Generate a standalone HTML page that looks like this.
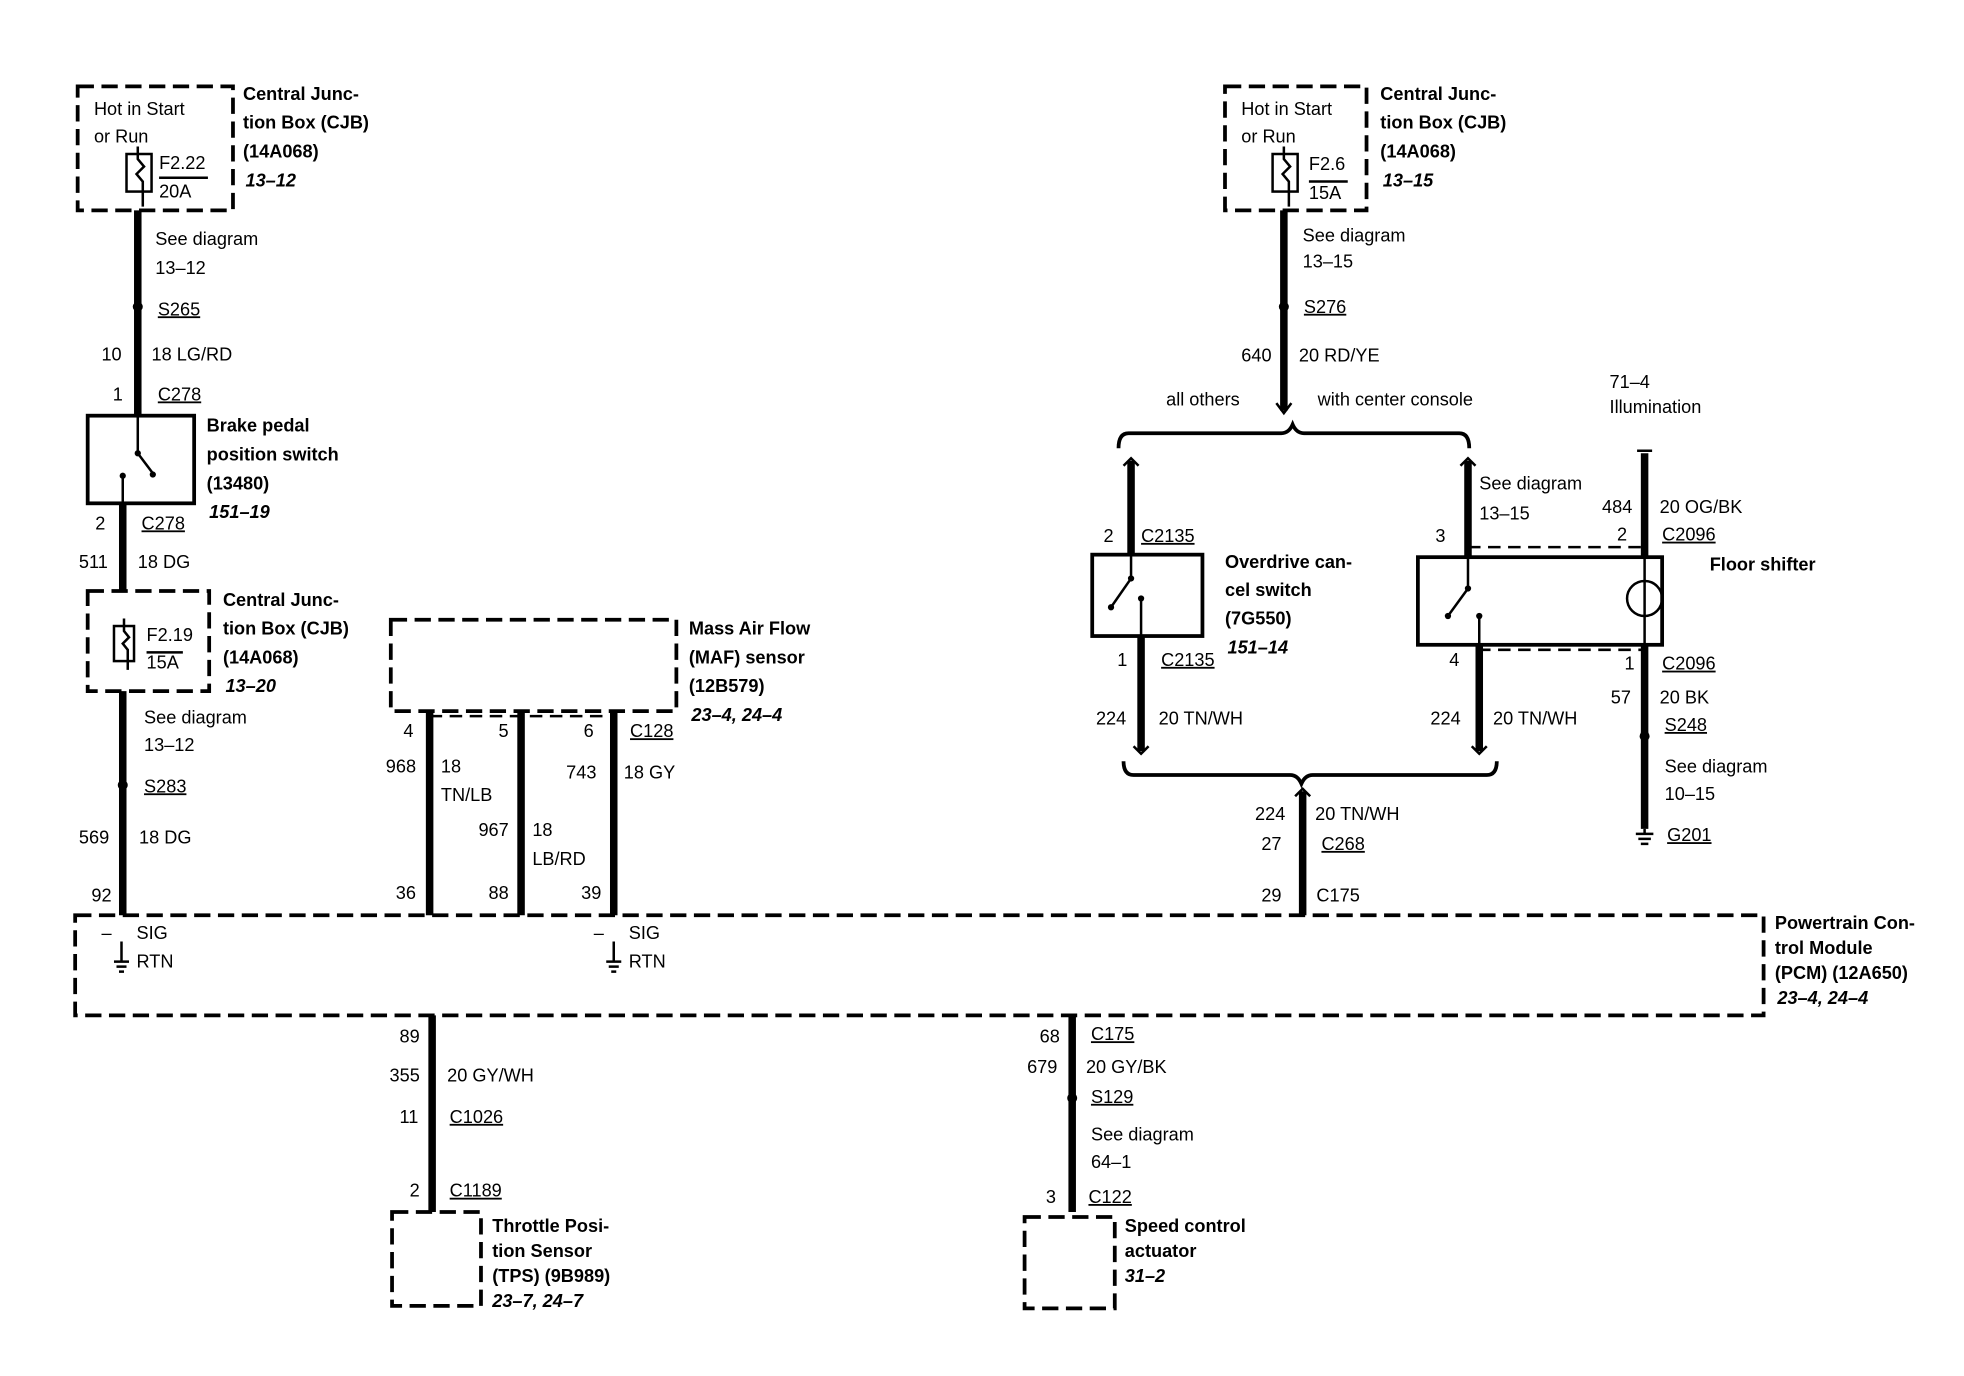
<!DOCTYPE html>
<html><head><meta charset="utf-8"><style>
html,body{margin:0;padding:0;background:#fff;}
svg{display:block}
text{font-family:"Liberation Sans",sans-serif;font-size:14.5px;fill:#000;dominant-baseline:middle}
.b{font-weight:bold}
.i{font-weight:bold;font-style:italic}
.u{text-decoration:underline}
</style></head><body>
<svg width="1964" height="1376" viewBox="0 0 1568 1099" preserveAspectRatio="none" xmlns="http://www.w3.org/2000/svg">
<g fill="none" stroke="#000">
<g stroke-width="3" stroke-dasharray="13,6">
<rect x="62" y="69" width="124" height="99"/>
<rect x="70" y="472" width="97" height="80"/>
<rect x="978" y="69" width="113" height="99"/>
<rect x="312" y="495" width="228" height="73"/>
<rect x="60" y="731" width="1348" height="80"/>
<rect x="313" y="968" width="71" height="75"/>
<rect x="818" y="972" width="72" height="73"/>
</g>
<g stroke-width="2" stroke-dasharray="10,6">
<line x1="343" y1="572" x2="490" y2="572"/>
<line x1="1172" y1="437" x2="1313" y2="437"/>
<line x1="1180" y1="519" x2="1313" y2="519"/>
</g>
<g stroke-width="3">
<rect x="70" y="332" width="85" height="70"/>
<rect x="872" y="443" width="88" height="65"/>
<rect x="1132" y="445" width="195" height="70"/>
</g>
<g stroke-width="2">
<rect x="101" y="123" width="20" height="30"/>
<path d="M110 117 v10 l5 6 l-6 6 l5 6 v20"/>
<line x1="127" y1="142" x2="166" y2="142"/>
<rect x="91" y="500" width="16" height="28"/>
<path d="M99 494 v10 l4 5 l-5 5 l4 5 v16"/>
<line x1="117" y1="521" x2="146" y2="521"/>
<rect x="1016" y="123" width="20" height="30"/>
<path d="M1025 117 v10 l5 6 l-6 6 l5 6 v20"/>
<line x1="1045" y1="145" x2="1076" y2="145"/>
</g>
<g stroke-width="6">
<line x1="110" y1="168" x2="110" y2="332"/>
<line x1="98" y1="402" x2="98" y2="472"/>
<line x1="98" y1="552" x2="98" y2="731"/>
<line x1="343" y1="568" x2="343" y2="731"/>
<line x1="416" y1="568" x2="416" y2="731"/>
<line x1="490" y1="568" x2="490" y2="731"/>
<line x1="345" y1="811" x2="345" y2="968"/>
<line x1="856" y1="811" x2="856" y2="968"/>
<line x1="1025" y1="168" x2="1025" y2="328"/>
<line x1="903" y1="368" x2="903" y2="443"/>
<line x1="911" y1="508" x2="911" y2="600"/>
<line x1="1172" y1="368" x2="1172" y2="445"/>
<line x1="1181" y1="515" x2="1181" y2="600"/>
<line x1="1313" y1="362" x2="1313" y2="445"/>
<line x1="1313" y1="515" x2="1313" y2="662"/>
<line x1="1040" y1="632" x2="1040" y2="731"/>
</g>
<g stroke-width="2">
<line x1="110" y1="332" x2="110" y2="362"/><line x1="110" y1="362" x2="122" y2="378"/>
<line x1="98" y1="380" x2="98" y2="402"/>
<line x1="903" y1="443" x2="903" y2="462"/><line x1="903" y1="462" x2="887" y2="485"/>
<line x1="911" y1="478" x2="911" y2="508"/>
<line x1="1172" y1="445" x2="1172" y2="470"/><line x1="1172" y1="470" x2="1156" y2="492"/>
<line x1="1181" y1="492" x2="1181" y2="515"/>
<line x1="1313" y1="445" x2="1313" y2="515"/>
<circle cx="1313" cy="478" r="14"/>
<path d="M893 358 q0 -12 8 -12 h122 q6 0 9 -7 q3 7 9 7 h124 q8 0 8 12" stroke-width="3"/>
<path d="M897 608 q0 11 8 11 h125 q6 0 9 7 q3 -7 9 -7 h139 q8 0 8 -11" stroke-width="3"/>
<path d="M97 752 v16 M91 768 h12 M93 772 h8 M95 776 h4"/>
<path d="M490 752 v16 M484 768 h12 M486 772 h8 M488 776 h4"/>
<path d="M1313 662 v4 M1306 666 h14 M1308 670 h10 M1310 674 h6"/>
</g>
<g stroke-width="2">
<path d="M1019 322 l6 8 l6 -8"/>
<path d="M897 372 l6 -6 l6 6"/><path d="M1166 372 l6 -6 l6 6"/>
<path d="M905 596 l6 6 l6 -6"/><path d="M1175 596 l6 6 l6 -6"/>
<path d="M1034 636 l6 -6 l6 6"/>
<path d="M1307 360 h12"/>
</g>
</g>
<g fill="#000">
<circle cx="110" cy="245" r="4"/><circle cx="98" cy="627" r="4"/>
<circle cx="1025" cy="245" r="4"/><circle cx="856" cy="877" r="4"/>
<circle cx="1313" cy="588" r="4"/>
<circle cx="110" cy="362" r="2.5"/><circle cx="122" cy="379" r="2.5"/><circle cx="98" cy="380" r="2.5"/>
<circle cx="903" cy="462" r="2.5"/><circle cx="887" cy="485" r="2.5"/><circle cx="911" cy="478" r="2.5"/>
<circle cx="1172" cy="470" r="2.5"/><circle cx="1156" cy="492" r="2.5"/><circle cx="1181" cy="492" r="2.5"/>
</g>

<text x="75" y="88">Hot in Start</text><text x="75" y="110">or Run</text>
<text x="127" y="131">F2.22</text><text x="127" y="154">20A</text>
<text class="b" x="194" y="76">Central Junc-</text><text class="b" x="194" y="99">tion Box (CJB)</text><text class="b" x="194" y="122">(14A068)</text><text class="i" x="196" y="145">13–12</text>
<text x="124" y="192">See diagram</text><text x="124" y="215">13–12</text>
<text class="u" x="126" y="248">S265</text>
<text x="81" y="284">10</text><text x="121" y="284">18 LG/RD</text>
<text x="90" y="316">1</text><text class="u" x="126" y="316">C278</text>
<text class="b" x="165" y="341">Brake pedal</text><text class="b" x="165" y="364">position switch</text><text class="b" x="165" y="387">(13480)</text><text class="i" x="167" y="410">151–19</text>
<text x="76" y="419">2</text><text class="u" x="113" y="419">C278</text>
<text x="63" y="450">511</text><text x="110" y="450">18 DG</text>
<text x="117" y="508">F2.19</text><text x="117" y="530">15A</text>
<text class="b" x="178" y="480">Central Junc-</text><text class="b" x="178" y="503">tion Box (CJB)</text><text class="b" x="178" y="526">(14A068)</text><text class="i" x="180" y="549">13–20</text>
<text x="115" y="574">See diagram</text><text x="115" y="596">13–12</text>
<text class="u" x="115" y="629">S283</text>
<text x="63" y="670">569</text><text x="111" y="670">18 DG</text>
<text x="73" y="716">92</text>
<text x="81" y="746">–</text><text x="109" y="746">SIG</text><text x="109" y="769">RTN</text>
<text x="474" y="746">–</text><text x="502" y="746">SIG</text><text x="502" y="769">RTN</text>
<text class="b" x="550" y="503">Mass Air Flow</text><text class="b" x="550" y="526">(MAF) sensor</text><text class="b" x="550" y="549">(12B579)</text><text class="i" x="552" y="572">23–4, 24–4</text>
<text x="322" y="585">4</text><text x="398" y="585">5</text><text x="466" y="585">6</text><text class="u" x="503" y="585">C128</text>
<text x="308" y="613">968</text><text x="352" y="613">18</text><text x="352" y="636">TN/LB</text>
<text x="382" y="664">967</text><text x="425" y="664">18</text><text x="425" y="687">LB/RD</text>
<text x="452" y="618">743</text><text x="498" y="618">18 GY</text>
<text x="316" y="714">36</text><text x="390" y="714">88</text><text x="464" y="714">39</text>
<text x="1007" y="716">29</text><text x="1051" y="716">C175</text>
<text class="b" x="1417" y="738">Powertrain Con-</text><text class="b" x="1417" y="758">trol Module</text><text class="b" x="1417" y="778">(PCM) (12A650)</text><text class="i" x="1419" y="798">23–4, 24–4</text>
<text x="319" y="829">89</text><text x="311" y="860">355</text><text x="357" y="860">20 GY/WH</text>
<text x="319" y="893">11</text><text class="u" x="359" y="893">C1026</text>
<text x="327" y="952">2</text><text class="u" x="359" y="952">C1189</text>
<text class="b" x="393" y="980">Throttle Posi-</text><text class="b" x="393" y="1000">tion Sensor</text><text class="b" x="393" y="1020">(TPS) (9B989)</text><text class="i" x="393" y="1040">23–7, 24–7</text>
<text x="830" y="829">68</text><text class="u" x="871" y="827">C175</text>
<text x="820" y="853">679</text><text x="867" y="853">20 GY/BK</text>
<text class="u" x="871" y="877">S129</text>
<text x="871" y="907">See diagram</text><text x="871" y="929">64–1</text>
<text x="835" y="957">3</text><text class="u" x="869" y="957">C122</text>
<text class="b" x="898" y="980">Speed control</text><text class="b" x="898" y="1000">actuator</text><text class="i" x="898" y="1020">31–2</text>
<text x="991" y="88">Hot in Start</text><text x="991" y="110">or Run</text>
<text x="1045" y="132">F2.6</text><text x="1045" y="155">15A</text>
<text class="b" x="1102" y="76">Central Junc-</text><text class="b" x="1102" y="99">tion Box (CJB)</text><text class="b" x="1102" y="122">(14A068)</text><text class="i" x="1104" y="145">13–15</text>
<text x="1040" y="189">See diagram</text><text x="1040" y="210">13–15</text>
<text class="u" x="1041" y="246">S276</text>
<text x="991" y="285">640</text><text x="1037" y="285">20 RD/YE</text>
<text x="931" y="320">all others</text><text x="1052" y="320">with center console</text>
<text x="1285" y="306">71–4</text><text x="1285" y="326">Illumination</text>
<text x="881" y="429">2</text><text class="u" x="911" y="429">C2135</text>
<text class="b" x="978" y="450">Overdrive can-</text><text class="b" x="978" y="472">cel switch</text><text class="b" x="978" y="495">(7G550)</text><text class="i" x="980" y="518">151–14</text>
<text x="892" y="528">1</text><text class="u" x="927" y="528">C2135</text>
<text x="875" y="575">224</text><text x="925" y="575">20 TN/WH</text>
<text x="1181" y="387">See diagram</text><text x="1181" y="411">13–15</text>
<text x="1146" y="429">3</text>
<text x="1279" y="406">484</text><text x="1325" y="406">20 OG/BK</text>
<text x="1291" y="428">2</text><text class="u" x="1327" y="428">C2096</text>
<text class="b" x="1365" y="452">Floor shifter</text>
<text x="1157" y="528">4</text>
<text x="1142" y="575">224</text><text x="1192" y="575">20 TN/WH</text>
<text x="1297" y="531">1</text><text class="u" x="1327" y="531">C2096</text>
<text x="1286" y="558">57</text><text x="1325" y="558">20 BK</text>
<text class="u" x="1329" y="580">S248</text>
<text x="1329" y="613">See diagram</text><text x="1329" y="635">10–15</text>
<text class="u" x="1331" y="668">G201</text>
<text x="1002" y="651">224</text><text x="1050" y="651">20 TN/WH</text>
<text x="1007" y="675">27</text><text class="u" x="1055" y="675">C268</text>
</svg>
</body></html>
